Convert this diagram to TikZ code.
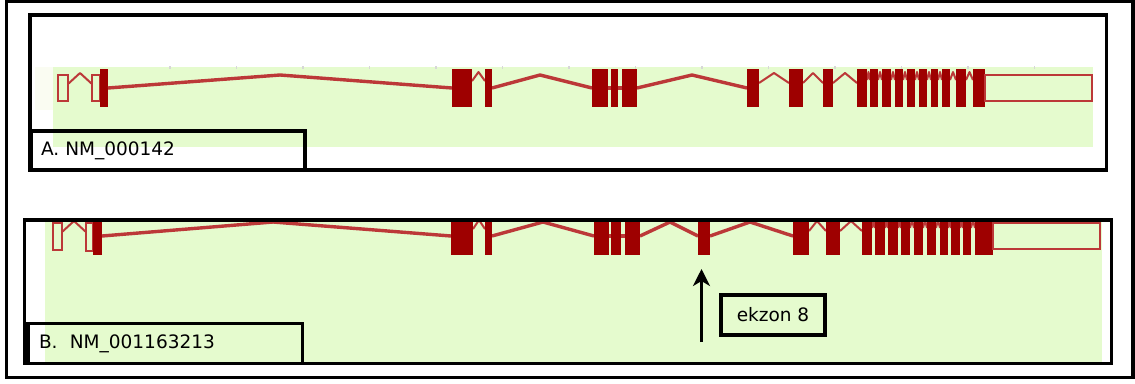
\documentclass[tikz,border=0pt]{standalone}
\usepackage{fontspec}
\setmainfont{DejaVu Sans}
\usetikzlibrary{arrows.meta}
\definecolor{panelgreen}{RGB}{229,251,206}
\definecolor{palestrip}{RGB}{250,252,242}
\definecolor{exonred}{RGB}{158,0,0}
\definecolor{intronred}{RGB}{188,56,56}
\definecolor{tickgray}{RGB}{215,215,215}

\begin{document}
\begin{tikzpicture}[x=1pt,y=-1pt,
  frame/.style={draw=black,line width=3.6pt},
  exon/.style={fill=exonred},
  utr/.style={draw=intronred,line width=2.6pt},
  intron/.style={draw=intronred,line width=3.4pt,line join=round},
  joint/.style={draw=intronred,line width=2pt,line join=round},
  labelbox/.style={draw=black,line width=3.6pt,inner xsep=10pt,inner ysep=0pt,
    font=\fontsize{18.5}{20}\selectfont,align=left}]

\useasboundingbox (0,0) rectangle (1135,383);
\fill[white] (0,0) rectangle (1135,383);

% ---------- transcript A ----------
\fill[palestrip] (35,67) rectangle (53,110);
\fill[panelgreen] (53,67) rectangle (1093,147);
\foreach \k in {0,...,13}
  \draw[tickgray,line width=1.5pt] ({170+66.5*\k},66) -- ++(0,3);

\draw[utr] (58,75) rectangle (68,101);
\draw[joint] (68,84) -- (80,73) -- (92,84);
\draw[utr] (92,75) rectangle (100,101);
\fill[exon] (100,69) rectangle (108,107);
\draw[intron] (108,88) -- (280,75) -- (452,88);
\draw[joint] (472,81) -- (478.5,72) -- (485,81);
\draw[intron] (492,88) -- (540,75) -- (592,88);
\draw[intron] (608,88) -- (622,88);
\draw[intron] (637,88) -- (692,75) -- (747,88);
\draw[joint] (759,83) -- (774,73) -- (789,83);
\draw[joint] (803,83) -- (813,73) -- (823,83);
\draw[joint] (833,83) -- (845,73) -- (857,83);
\foreach \a/\b in {867/870,878/882,891/895,903/907,915/919,927/931,938/942,950/956,966/973}
  \draw[joint] (\a,80) -- ({(\a+\b)/2},72) -- (\b,80);
\foreach \a/\b in {452/472,485/492,592/608,611/618,622/637,747/759,789/803,823/833,
                   857/867,870/878,882/891,895/903,907/915,919/927,931/938,942/950,956/966,973/985}
  \fill[exon] (\a,69) rectangle (\b,107);
\draw[utr] (985,75) rectangle (1092,101);

% ---------- transcript B ----------
\fill[panelgreen] (45,220) rectangle (1102,363);
\begin{scope}
  \clip (24.5,220) rectangle (1111.5,363.5);
  \draw[utr] (53,223) rectangle (62,250);
  \draw[joint] (62,232) -- (74,221) -- (86,232);
  \draw[utr] (86,223) rectangle (93,251);
  \fill[exon] (93,217) rectangle (102,255);
  \draw[intron] (102,236) -- (273,222) -- (451,236);
  \draw[joint] (473,229) -- (479,220) -- (485,229);
  \draw[intron] (492,236) -- (543,222) -- (594,236);
  \draw[intron] (609,236) -- (625,236);
  \draw[intron] (640,236) -- (670,222) -- (698,236);
  \draw[intron] (710,236) -- (750,222) -- (793,236);
  \draw[joint] (809,231) -- (817,221) -- (826,231);
  \draw[joint] (840,231) -- (851,221) -- (862,231);
  \foreach \a/\b in {872/875,885/888,898/901,910/914,923/927,936/940,948/951,960/963,971/975}
    \draw[joint] (\a,228) -- ({(\a+\b)/2},220) -- (\b,228);
  \foreach \a/\b in {451/473,485/492,594/609,611/621,625/640,698/710,793/809,826/840,
                     862/872,875/885,888/898,901/910,914/923,927/936,940/948,951/960,963/971,975/993}
    \fill[exon] (\a,217) rectangle (\b,255);
  \draw[utr] (993,223) rectangle (1100,249);
\end{scope}

% ---------- frames ----------
\draw[frame] (6.5,1.5) rectangle (1133,377.5);
\draw[frame] (30,15) rectangle (1106.5,170);
\draw[frame] (24.5,220) rectangle (1111.5,363.5);

% ---------- labels ----------
\node[labelbox,minimum width=274pt,minimum height=39pt,text width=254pt] (labA)
  at (168,150.5) {A. NM\_000142};
\node[labelbox,minimum width=274.5pt,minimum height=40pt,text width=252.5pt,inner xsep=11pt] (labB)
  at (165.25,343.5) {B.~~NM\_001163213};
\node[labelbox,minimum width=104pt,minimum height=40pt,align=center,inner xsep=4pt] (ex8)
  at (773,315) {ekzon 8};

% ---------- pointer to exon 8 ----------
\coordinate (afoot) at (701.5,342);
\coordinate (atip) at (701.5,269);
\draw[line width=3pt,-{Stealth[length=17pt,width=17pt,inset=5pt]}] (afoot) -- (atip);
\end{tikzpicture}
\end{document}
